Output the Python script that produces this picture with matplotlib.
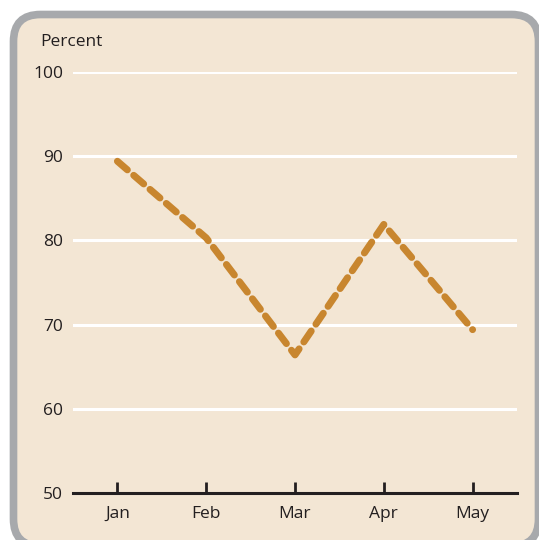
import matplotlib
matplotlib.use("Agg")
import matplotlib.pyplot as plt
from matplotlib.patches import FancyBboxPatch

months = ["Jan", "Feb", "Mar", "Apr", "May"]
percent = [89.4, 80.3, 66.4, 81.9, 69.4]
yticks = [50, 60, 70, 80, 90, 100]

plt.rcParams['font.family'] = ['Open Sans', 'DejaVu Sans']

fig = plt.figure(figsize=(5.39, 5.40), dpi=100)
W, H = 539, 540

# rounded background panel (bottom edge just below the figure)
x0, x1 = 13.5, 538.5
y_top, y_bot = 14.5, 546.0
bg = FancyBboxPatch((x0 / W, 1 - y_bot / H), (x1 - x0) / W, (y_bot - y_top) / H,
                    boxstyle="round,pad=0,rounding_size=0.05",
                    transform=fig.transFigure, facecolor="#f3e6d4",
                    edgecolor="#a7a9ac", linewidth=5.5, zorder=-5)
fig.patches.append(bg)

ax = fig.add_axes([73 / W, 1 - 493 / H, (517 - 73) / W, (493 - 72) / H])
ax.set_zorder(2)
ax.set_facecolor("none")
ax.set_xlim(-0.5, 4.5)
ax.set_ylim(50, 100)

for y in yticks[1:]:
    ax.axhline(y, color="white", lw=2.2, zorder=1)

x = list(range(len(months)))
ax.plot(x, percent, color="#c8862f", lw=5.0, linestyle=(0, (1.9, 1.2)),
        dash_capstyle="round", solid_joinstyle="round", zorder=3)

for s in ["top", "right", "left"]:
    ax.spines[s].set_visible(False)
ax.spines["bottom"].set_color("#231f20")
ax.spines["bottom"].set_linewidth(2.2)
ax.spines["bottom"].set_zorder(4)

ax.set_xticks(x)
ax.set_xticklabels(months)
ax.set_yticks(yticks)
ax.set_yticklabels([str(v) for v in yticks])
ax.tick_params(axis="x", direction="in", length=8, width=2.0, color="#231f20",
               labelsize=12.5, labelcolor="#231f20", pad=9)
ax.tick_params(axis="y", length=0, labelsize=12.5, labelcolor="#231f20", pad=7)

fig.text(40 / W, 1 - 42 / H, "Percent", fontsize=12.5, color="#231f20",
         ha="left", va="center")

fig.savefig("out.png", dpi=100)
